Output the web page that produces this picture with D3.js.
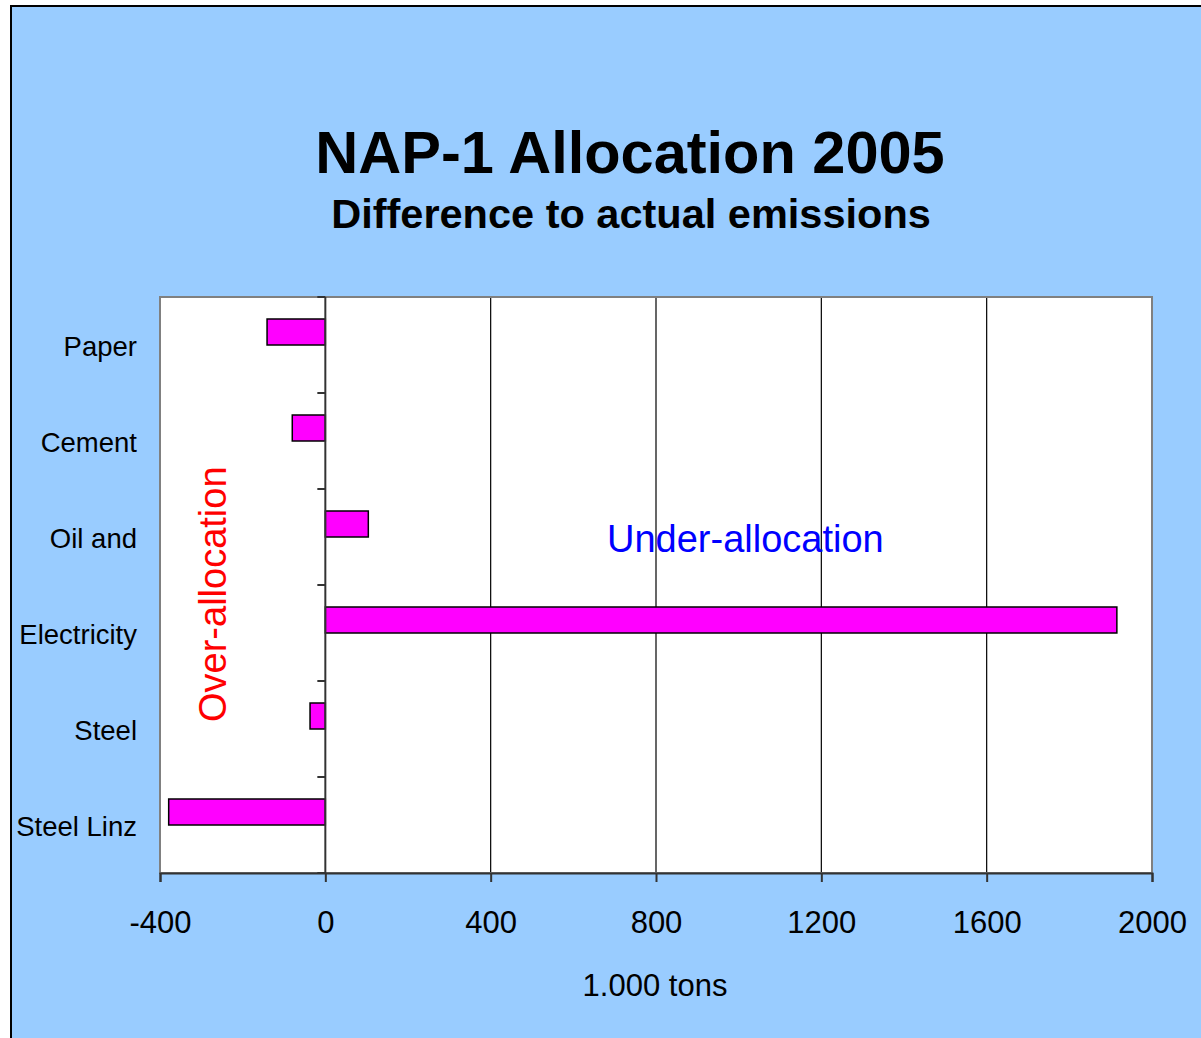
<!DOCTYPE html>
<html>
<head>
<meta charset="utf-8">
<script src="https://cdn.jsdelivr.net/npm/d3@7"></script>
<style>
  html, body { margin: 0; padding: 0; background: #ffffff; }
  svg { display: block; font-family: "Liberation Sans", Arial, sans-serif; }
</style>
</head>
<body>
<svg id="chart" width="1201" height="1038"></svg>
<script>
// Sectors, top to bottom
const categories = ["Paper", "Cement", "Oil and", "Electricity", "Steel", "Steel Linz"];
// Allocation minus actual emissions, in 1.000 tons
const values = [-141, -80, 104, 1915, -37, -379];
const xTicks = [-400, 0, 400, 800, 1200, 1600, 2000];
const seriesKeys = ["difference", "spare"];

const svg = d3.select("#chart");
const W = 1201, H = 1038;

// Background panel
svg.append("rect").attr("x", 11).attr("y", 6).attr("width", W).attr("height", H)
  .attr("fill", "#99ccff").attr("stroke", "#000").attr("stroke-width", 2);

const plot = { left: 160, right: 1152, top: 297, bottom: 873 };

const x = d3.scaleLinear().domain([-400, 2000]).range([plot.left, plot.right]);
const y = d3.scaleBand().domain(categories).range([plot.top, plot.bottom]).padding(0);
const ySub = d3.scaleBand().domain(seriesKeys).range([0, y.bandwidth()])
  .paddingInner(0).paddingOuter(0.846);

// Plot area
svg.append("rect").attr("x", plot.left).attr("y", plot.top)
  .attr("width", plot.right - plot.left).attr("height", plot.bottom - plot.top)
  .attr("fill", "#ffffff");

// Vertical gridlines
svg.append("g").selectAll("line")
  .data(xTicks.filter(t => t !== 0 && t !== -400 && t !== 2000))
  .join("line")
  .attr("x1", d => x(d)).attr("x2", d => x(d))
  .attr("y1", plot.top).attr("y2", plot.bottom)
  .attr("stroke", "#000").attr("stroke-width", 1.2);

// Plot border
svg.append("rect").attr("x", plot.left).attr("y", plot.top)
  .attr("width", plot.right - plot.left).attr("height", plot.bottom - plot.top)
  .attr("fill", "none").attr("stroke", "#808080").attr("stroke-width", 2);

// Bars
svg.append("g").selectAll("rect")
  .data(categories.map((c, i) => ({ c, v: values[i] })))
  .join("rect")
  .attr("x", d => x(Math.min(0, d.v)))
  .attr("width", d => Math.abs(x(d.v) - x(0)))
  .attr("y", d => y(d.c) + ySub("difference"))
  .attr("height", ySub.bandwidth())
  .attr("fill", "#ff00ff").attr("stroke", "#000").attr("stroke-width", 1.5);

// Bottom axis (plain hyphen for negatives)
const xAxis = d3.axisBottom(x).tickValues(xTicks).tickSize(9).tickPadding(29)
  .tickFormat(d => String(d));
const gx = svg.append("g").attr("transform", `translate(0,${plot.bottom})`).call(xAxis);
gx.select(".domain").attr("stroke", "#333").attr("stroke-width", 2);
gx.selectAll(".tick line").attr("stroke", "#333").attr("stroke-width", 2);
gx.selectAll(".tick text").attr("font-size", 31).attr("fill", "#000")
  .attr("font-family", "Liberation Sans, Arial, sans-serif");

// Category axis at zero, ticks between categories
const boundaries = categories.map(c => y(c)).concat([plot.bottom]);
const gy = svg.append("g");
gy.append("line").attr("x1", x(0)).attr("x2", x(0))
  .attr("y1", plot.top).attr("y2", plot.bottom)
  .attr("stroke", "#333").attr("stroke-width", 2);
gy.selectAll("line.tk").data(boundaries).join("line").attr("class", "tk")
  .attr("x1", x(0) - 8).attr("x2", x(0))
  .attr("y1", d => d).attr("y2", d => d)
  .attr("stroke", "#333").attr("stroke-width", 2);

// Category labels
svg.append("g").selectAll("text").data(categories).join("text")
  .attr("x", 137)
  .attr("y", d => y(d) + y.bandwidth() / 2 + 11)
  .attr("text-anchor", "end").attr("font-size", 27.5).attr("fill", "#000")
  .text(d => d);

// Titles
svg.append("text").attr("x", 630).attr("y", 173).attr("text-anchor", "middle")
  .attr("font-size", 59.5).attr("font-weight", "bold").attr("fill", "#000")
  .text("NAP-1 Allocation 2005");
svg.append("text").attr("x", 631).attr("y", 228).attr("text-anchor", "middle")
  .attr("font-size", 41.5).attr("font-weight", "bold").attr("fill", "#000")
  .text("Difference to actual emissions");

// Axis title
svg.append("text").attr("x", 655).attr("y", 996).attr("text-anchor", "middle")
  .attr("font-size", 31).attr("fill", "#000").text("1.000 tons");

// Annotations
svg.append("text").attr("x", 607).attr("y", 552)
  .attr("font-size", 38).attr("fill", "#0000ff").text("Under-allocation");
svg.append("text").attr("transform", "translate(226,722) rotate(-90)")
  .attr("font-size", 38).attr("fill", "#ff0000").text("Over-allocation");
</script>
</body>
</html>
